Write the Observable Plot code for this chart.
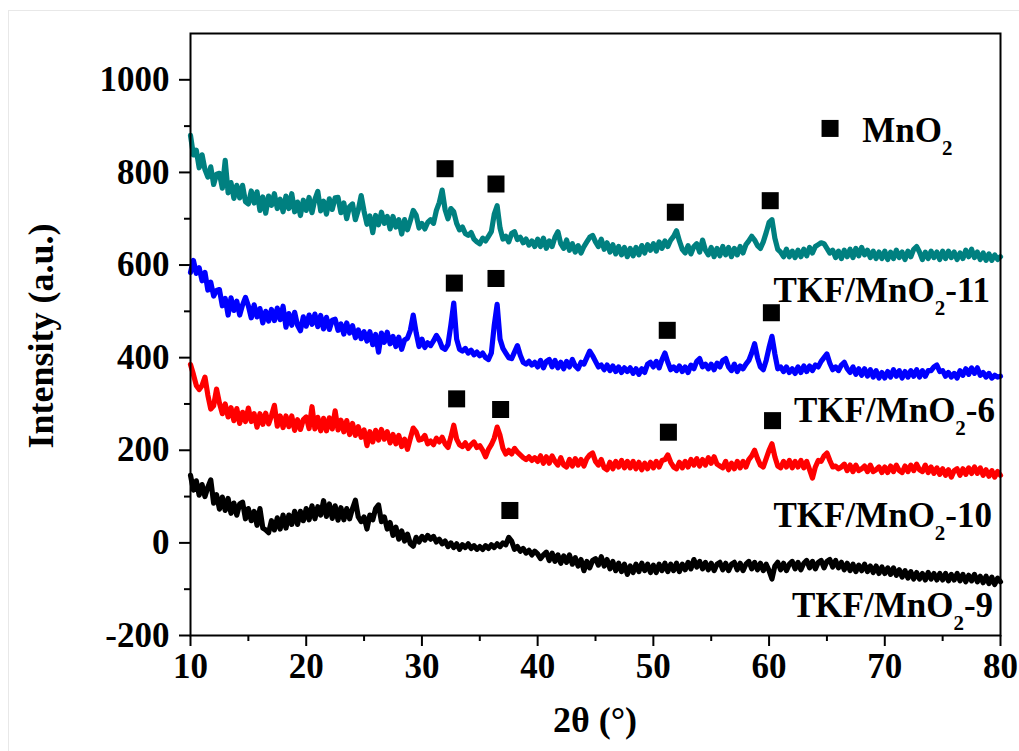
<!DOCTYPE html>
<html>
<head>
<meta charset="utf-8">
<script src="https://cdn.jsdelivr.net/npm/d3@7"></script>
<script src="https://cdn.jsdelivr.net/npm/@observablehq/plot@0.6"></script>
<style>
  body { margin: 0; background: #fff; }
  #page { position: relative; width: 1019px; height: 751px; overflow: hidden; }
  #edge { position: absolute; left: 8px; top: 10px; right: -4px; bottom: -4px;
          border-left: 1px solid #e8e8e8; border-top: 1px solid #e8e8e8; }
  #chart { position: absolute; left: 0; top: 0; }
</style>
</head>
<body>
<div id="page"><div id="edge"></div><div id="chart"></div></div>
<script>
// XRD patterns, 2θ from 10° to 80° sampled every 0.25°
const startAngle = 10, stepAngle = 0.25;

const mno2_11 = [
  880,838,848,810,838,806,790,812,774,796,798,766,826,756,778,744,772,745,772,737,
  732,760,734,758,718,747,712,749,729,754,722,742,715,749,722,754,715,736,707,740,
  718,746,713,742,759,717,738,710,743,720,745,746,713,734,700,726,732,698,719,750,
  716,688,706,670,707,687,714,690,705,678,705,682,698,667,698,676,696,718,708,680,
  690,678,692,698,690,718,735,762,720,700,722,715,690,676,682,668,664,670,656,650,
  646,658,652,662,672,710,728,680,656,662,650,668,672,655,660,648,656,643,652,640,
  656,640,658,636,652,640,660,672,646,636,654,632,646,628,642,626,640,650,660,664,
  650,640,656,634,648,628,644,624,640,622,638,618,636,620,638,622,642,626,644,632,
  646,630,650,636,652,640,654,662,674,652,634,626,642,624,640,646,628,654,632,622,
  638,618,636,620,640,622,638,618,636,622,640,626,644,652,662,654,642,636,650,670,
  692,698,658,634,628,618,634,618,630,616,632,618,634,620,638,626,640,644,648,646,
  636,626,632,616,630,614,632,618,634,616,636,620,638,622,632,616,630,614,628,614,
  630,612,628,614,632,616,628,612,630,618,634,640,628,612,628,614,630,616,628,612,
  630,614,630,616,628,612,626,614,632,618,634,616,628,612,626,610,624,610,622,612,
  618
];

const mno2_6 = [
  584,610,582,594,566,584,546,563,533,545,547,512,528,492,529,502,522,492,514,530,
  512,486,514,488,506,475,500,479,504,480,507,482,511,466,495,470,498,470,458,488,
  468,492,472,494,467,491,462,487,461,481,483,459,473,451,475,453,469,443,460,441,
  456,436,456,428,450,412,453,433,455,430,446,424,444,418,438,442,459,492,454,424,
  440,422,432,426,436,448,438,422,418,428,470,518,440,418,414,420,410,416,406,412,
  404,410,400,396,410,470,515,440,420,410,400,398,412,426,405,390,386,392,384,390,
  380,394,378,392,396,380,394,378,390,376,392,380,396,382,376,390,386,400,414,404,
  392,380,384,374,384,372,382,370,380,368,378,370,378,366,376,364,376,368,386,390,
  380,392,378,396,410,390,374,380,372,382,370,380,368,384,376,392,398,380,386,376,
  386,374,388,380,394,398,380,372,386,370,382,376,386,394,410,430,400,380,374,394,
  422,446,408,376,380,370,380,368,376,366,380,368,382,370,382,372,384,380,392,400,
  408,388,374,380,372,384,390,376,368,380,364,376,362,376,360,374,358,372,356,368,
  356,370,358,374,360,372,356,370,358,372,360,374,358,372,360,372,372,380,384,370,
  372,360,368,358,366,356,372,362,376,364,378,366,378,362,368,358,366,356,362,358,
  360
];

const mno2_10 = [
  385,364,340,331,340,358,319,289,296,332,302,279,300,272,292,264,290,258,282,262,
  291,262,279,250,279,256,280,257,275,297,252,274,249,274,251,274,243,266,245,266,
  272,247,294,246,271,242,269,242,270,246,285,244,265,240,264,234,258,232,251,228,
  244,210,240,218,243,222,245,224,240,216,234,214,232,208,224,202,226,248,240,222,
  224,232,214,220,212,226,218,228,214,206,228,254,224,212,208,216,204,212,218,206,
  210,200,186,202,212,226,250,232,204,192,200,192,204,196,190,184,180,186,178,184,
  176,188,172,186,172,188,176,168,184,168,164,180,166,182,168,180,166,182,190,194,
  176,168,180,162,158,174,160,176,164,178,162,176,162,176,160,174,158,172,160,174,
  162,176,164,178,180,190,174,164,160,174,162,176,164,180,168,182,166,180,168,184,
  172,186,170,166,162,176,158,172,160,176,162,176,164,180,188,200,182,168,164,182,
  200,214,186,166,162,176,164,178,162,176,164,178,162,176,158,140,164,178,176,188,
  194,178,164,166,160,164,170,156,168,154,168,156,160,166,154,168,154,158,164,152,
  164,152,166,154,168,156,152,166,154,168,156,170,158,154,168,152,164,150,162,148,
  160,146,158,142,156,160,146,160,148,162,150,164,150,162,146,158,144,156,142,154,
  146
];

const mno2_9 = [
  146,114,134,103,126,100,120,136,86,104,73,99,70,96,64,86,60,84,88,52,
  74,48,68,38,74,32,28,22,48,28,54,30,60,32,60,40,68,40,68,48,
  74,50,80,52,78,60,91,57,84,53,80,49,76,50,74,52,74,92,56,46,
  56,30,60,50,74,82,46,56,30,44,16,34,8,26,4,19,-2,-7,12,2,
  14,6,16,8,14,2,8,-2,4,-8,0,-10,-2,-14,-4,-10,-2,-12,-6,-14,
  -8,-14,-6,-12,-4,-10,-2,-8,0,-4,12,4,-14,-8,-18,-12,-22,-16,-26,-18,
  -24,-34,-26,-20,-38,-22,-40,-26,-44,-28,-42,-26,-46,-32,-50,-36,-60,-40,-54,-38,
  -34,-48,-30,-50,-36,-56,-40,-60,-44,-62,-46,-68,-50,-64,-46,-62,-44,-60,-46,-64,
  -48,-64,-46,-60,-44,-62,-46,-60,-44,-62,-46,-58,-42,-56,-36,-52,-40,-56,-42,-58,
  -44,-60,-46,-42,-58,-44,-60,-46,-42,-58,-44,-60,-46,-40,-56,-42,-58,-44,-60,-46,
  -60,-78,-50,-42,-58,-44,-60,-46,-40,-56,-42,-58,-44,-38,-54,-40,-56,-42,-38,-54,
  -40,-36,-52,-38,-54,-42,-58,-44,-60,-46,-62,-48,-60,-46,-62,-50,-64,-50,-66,-52,
  -66,-54,-68,-54,-70,-58,-74,-60,-76,-62,-78,-64,-78,-66,-80,-64,-78,-66,-80,-66,
  -80,-66,-82,-68,-80,-66,-82,-68,-84,-70,-82,-68,-84,-72,-86,-72,-88,-74,-90,-76,
  -84
];

// MnO2 reflections marked above each pattern
const markerAngle     = [32.0, 36.4, 51.9, 60.1, 32.8, 36.4, 51.2, 60.2, 33.0, 36.8, 51.3, 60.3, 37.6];
const markerIntensity = [808, 775, 714, 739, 561, 571, 459, 497, 311, 288, 239, 264, 70];

// Tick values
const xMajor = [10, 20, 30, 40, 50, 60, 70, 80];
const xMinor = [15, 25, 35, 45, 55, 65, 75];
const yMajor = [-200, 0, 200, 400, 600, 800, 1000];
const yMinor = [-100, 100, 300, 500, 700, 900];

// Pattern names (drawn as TKF/MnO₂-n) and their label anchors in data units
const seriesNames  = ["-11", "-6", "-10", "-9"];
const labelAngle   = [79.14, 79.57, 79.31, 79.4];
const labelLevel   = [519, 260, 33, -161];
const keyAngle = 65.27, keyLevel = 895, keyTextAngle = 68.1, keyTextLevel = 865;

const series = [
  {values: mno2_11, color: "#008080"},
  {values: mno2_6,  color: "#0000ff"},
  {values: mno2_10, color: "#ff0000"},
  {values: mno2_9,  color: "#000000"}
];

const toRows = (values) => values.map((v, i) => ({angle: startAngle + i * stepAngle, intensity: v}));
const markers = markerAngle.map((a, i) => ({angle: a, intensity: markerIntensity[i]}));

const FONT = "'Liberation Serif', 'Times New Roman', serif";
const axisText = {fontSize: 35, fontWeight: "bold", fontFamily: FONT};

const plot = Plot.plot({
  width: 1019,
  height: 751,
  marginTop: 33,
  marginRight: 19,
  marginBottom: 116,
  marginLeft: 190,
  style: {fontFamily: FONT, fontWeight: "bold", fontSize: "35px", background: "transparent", overflow: "visible"},
  x: {domain: [10, 80]},
  y: {domain: [-200, 1100]},
  marks: [
    Plot.axisX({ticks: xMajor, tickSize: 11, tickPadding: 7, strokeWidth: 2, label: null, tickFormat: d => String(d), ...axisText}),
    Plot.axisX({ticks: xMinor, tickSize: 6, strokeWidth: 2, label: null, tickFormat: () => ""}),
    Plot.axisY({ticks: yMajor, tickSize: 11, tickPadding: 10, strokeWidth: 2, label: null, tickFormat: d => String(d), ...axisText}),
    Plot.axisY({ticks: yMinor, tickSize: 6, strokeWidth: 2, label: null, tickFormat: () => ""}),
    ...series.map(s => Plot.line(toRows(s.values), {
      x: "angle", y: "intensity", stroke: s.color, strokeWidth: 5.2,
      strokeLinejoin: "round", strokeLinecap: "round"
    })),
    Plot.dot(markers, {x: "angle", y: "intensity", symbol: "square", r: 9.6, fill: "black", stroke: null}),
    Plot.dot([{angle: keyAngle, intensity: keyLevel}], {x: "angle", y: "intensity", symbol: "square", r: 9.6, fill: "black", stroke: null}),
    Plot.frame({stroke: "black", strokeWidth: 2})
  ]
});

document.getElementById("chart").appendChild(plot);

// Labels with subscripts, positioned through the plot's scales
const sx = plot.scale("x"), sy = plot.scale("y");
const svg = d3.select(plot);
const labels = svg.append("g")
  .attr("font-family", FONT).attr("font-weight", "bold").attr("fill", "black");

function formula(g, x, y, anchor, head, tail) {
  const t = g.append("text").attr("x", x).attr("y", y).attr("text-anchor", anchor).attr("font-size", 35);
  t.append("tspan").text(head);
  t.append("tspan").attr("dy", 13).attr("font-size", 21).text("2");
  if (tail) t.append("tspan").attr("dy", -13).text(tail);
  return t;
}

seriesNames.forEach((n, i) => {
  formula(labels, sx.apply(labelAngle[i]), sy.apply(labelLevel[i]), "end", "TKF/MnO", n);
});
formula(labels, sx.apply(keyTextAngle), sy.apply(keyTextLevel), "start", "MnO", "");

// Axis titles
const [x0, x1] = sx.range, [y0, y1] = sy.range;
labels.append("text")
  .attr("x", (x0 + x1) / 2).attr("y", 732)
  .attr("text-anchor", "middle").attr("font-size", 36)
  .text("2θ (°)");
labels.append("text")
  .attr("transform", `translate(53,${(y0 + y1) / 2 + 2}) rotate(-90)`)
  .attr("text-anchor", "middle").attr("font-size", 36)
  .text("Intensity (a.u.)");
</script>
</body>
</html>
